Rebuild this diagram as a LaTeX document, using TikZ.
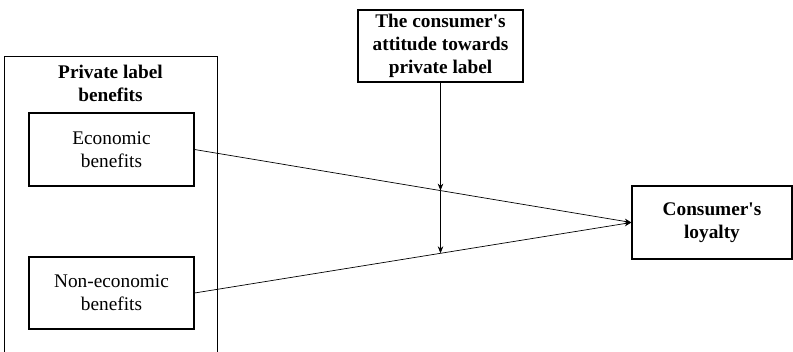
\documentclass[tikz,border=0pt]{standalone}
\usepackage{fontspec}
\setmainfont{Liberation Serif}
\usetikzlibrary{arrows.meta,intersections}
\begin{document}
\begin{tikzpicture}[x=1pt,y=-1pt,
  box/.style={draw, line width=1.2pt, inner sep=0pt, align=center,
    font=\fontsize{19.3}{23}\selectfont},
  bbox/.style={box, font=\fontsize{19.3}{23}\selectfont\bfseries},
  conn/.style={line width=0.7pt, -{Stealth[length=7pt,width=5.5pt]}}]
\useasboundingbox (0,0) rectangle (793,352);
\clip (0,0) rectangle (793,352);
\node[draw, line width=1.2pt, minimum width=213, minimum height=340, anchor=north west] (outer) at (4,56) {};
\node[align=center, inner sep=0pt, font=\fontsize{19.3}{23}\selectfont\bfseries] (title) at (110.5,83.5) {Private label\\benefits};
\node[box, minimum width=165, minimum height=73] (econ) at (111.5,149.5) {Economic\\benefits};
\node[box, minimum width=165, minimum height=72] (noneco) at (111.5,293) {Non-economic\\benefits};
\node[bbox, minimum width=165, minimum height=72] (att) at (440.5,46) {The consumer\textquotesingle s\\attitude towards\\private label};
\node[bbox, minimum width=160, minimum height=73] (loy) at (712,222.5) {Consumer\textquotesingle s\\loyalty};
\draw[conn, name path=l1] (econ.east) -- (loy.west);
\draw[conn, name path=l2] (noneco.east) -- (loy.west);
\path[name path=v] (att.south) -- ++(0,300);
\path[name intersections={of=v and l1, by=i1}];
\path[name intersections={of=v and l2, by=i2}];
\draw[conn] (att.south) -- (i1);
\draw[conn] (i1) -- (i2);
\end{tikzpicture}
\end{document}
